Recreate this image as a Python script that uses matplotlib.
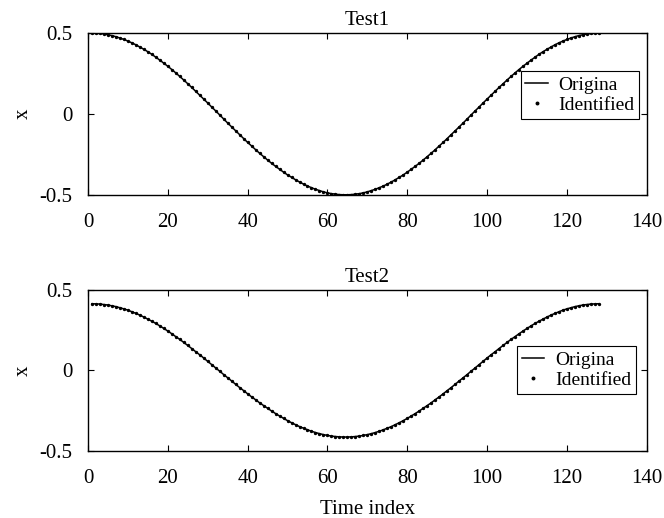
import matplotlib
matplotlib.use("Agg")
import matplotlib.pyplot as plt

plt.rcParams["font.family"] = ["Liberation Serif", "DejaVu Serif"]
plt.rcParams["axes.unicode_minus"] = False

time_index = list(range(1, 129))

test1_values = [
    0.500, 0.499, 0.498, 0.495, 0.490, 0.485, 0.478, 0.470, 0.461, 0.451,
    0.440, 0.428, 0.414, 0.400, 0.385, 0.369, 0.351, 0.333, 0.314, 0.295,
    0.275, 0.254, 0.232, 0.210, 0.187, 0.164, 0.140, 0.116, 0.092, 0.068,
    0.043, 0.019, -0.006, -0.031, -0.056, -0.080, -0.104, -0.128, -0.152, -0.176,
    -0.198, -0.221, -0.243, -0.264, -0.285, -0.305, -0.324, -0.342, -0.360, -0.377,
    -0.392, -0.407, -0.421, -0.434, -0.446, -0.456, -0.466, -0.474, -0.482, -0.488,
    -0.493, -0.496, -0.499, -0.500,
    -0.500, -0.499, -0.496, -0.493, -0.488, -0.482, -0.474, -0.466, -0.456, -0.446,
    -0.434, -0.421, -0.407, -0.392, -0.377, -0.360, -0.342, -0.324, -0.305, -0.285,
    -0.264, -0.243, -0.221, -0.198, -0.176, -0.152, -0.128, -0.104, -0.080, -0.056,
    -0.031, -0.006, 0.019, 0.043, 0.068, 0.092, 0.116, 0.140, 0.164, 0.187,
    0.210, 0.232, 0.254, 0.275, 0.295, 0.314, 0.333, 0.351, 0.369, 0.385,
    0.400, 0.414, 0.428, 0.440, 0.451, 0.461, 0.470, 0.478, 0.485, 0.490,
    0.495, 0.498, 0.499, 0.500,
]

test2_values = [
    0.415, 0.414, 0.413, 0.410, 0.407, 0.402, 0.397, 0.390, 0.383, 0.375,
    0.365, 0.355, 0.344, 0.332, 0.319, 0.306, 0.292, 0.277, 0.261, 0.245,
    0.228, 0.210, 0.193, 0.174, 0.155, 0.136, 0.116, 0.097, 0.077, 0.056,
    0.036, 0.015, -0.005, -0.026, -0.046, -0.066, -0.087, -0.107, -0.126, -0.146,
    -0.165, -0.183, -0.202, -0.219, -0.236, -0.253, -0.269, -0.284, -0.299, -0.313,
    -0.326, -0.338, -0.350, -0.360, -0.370, -0.379, -0.387, -0.394, -0.400, -0.405,
    -0.409, -0.412, -0.414, -0.415,
    -0.415, -0.414, -0.412, -0.409, -0.405, -0.400, -0.394, -0.387, -0.379, -0.370,
    -0.360, -0.350, -0.338, -0.326, -0.313, -0.299, -0.284, -0.269, -0.253, -0.236,
    -0.219, -0.202, -0.183, -0.165, -0.146, -0.126, -0.107, -0.087, -0.066, -0.046,
    -0.026, -0.005, 0.015, 0.036, 0.056, 0.077, 0.097, 0.116, 0.136, 0.155,
    0.174, 0.193, 0.210, 0.228, 0.245, 0.261, 0.277, 0.292, 0.306, 0.319,
    0.332, 0.344, 0.355, 0.365, 0.375, 0.383, 0.390, 0.397, 0.402, 0.407,
    0.410, 0.413, 0.414, 0.415,
]

titles = ["Test1", "Test2"]
series = [test1_values, test2_values]
legend_labels = ["Origina", "Identified"]
x_ticks = [0, 20, 40, 60, 80, 100, 120, 140]
y_ticks = [-0.5, 0, 0.5]
y_tick_labels = ["-0.5", "0", "0.5"]

fig = plt.figure(figsize=(6.64, 5.18), dpi=100)
axes_boxes = [
    [0.1325, 0.624, 0.8415, 0.312],
    [0.1325, 0.130, 0.8415, 0.310],
]
legend_anchor = [(0.987, 0.765), (0.981, 0.65)]

fs = 15
leg_fs = 14
for i, (box, title, vals) in enumerate(zip(axes_boxes, titles, series)):
    ax = fig.add_axes(box)
    ax.plot(time_index, vals, color="black", linewidth=1.1, label=legend_labels[0])
    ax.plot(time_index, vals, linestyle="none", marker="o", markersize=1.4,
            color="black", label=legend_labels[1])
    ax.set_xlim(0, 140)
    ax.set_ylim(-0.5, 0.5)
    ax.set_xticks(x_ticks)
    ax.set_xticklabels([str(t) for t in x_ticks], fontsize=fs)
    ax.set_yticks(y_ticks)
    ax.set_yticklabels(y_tick_labels, fontsize=fs)
    ax.tick_params(direction="in", top=True, right=True, length=4, width=0.8)
    ax.tick_params(axis="x", pad=13)
    ax.tick_params(axis="y", pad=11)
    for sp in ax.spines.values():
        sp.set_linewidth(1.0)
    ax.set_title(title, fontsize=fs, pad=6)
    ax.set_ylabel("x", fontsize=fs, labelpad=5)
    leg = ax.legend(loc="upper right", bbox_to_anchor=legend_anchor[i],
                    fontsize=leg_fs, frameon=True, fancybox=False, framealpha=1,
                    edgecolor="black", borderpad=0.25, handlelength=1.15,
                    handletextpad=0.55, labelspacing=0.15, markerscale=1.3,
                    borderaxespad=0)
    leg.get_frame().set_linewidth(0.8)
    if i == 1:
        ax.set_xlabel("Time index", fontsize=fs, labelpad=9)

fig.savefig("out.png", dpi=100)
